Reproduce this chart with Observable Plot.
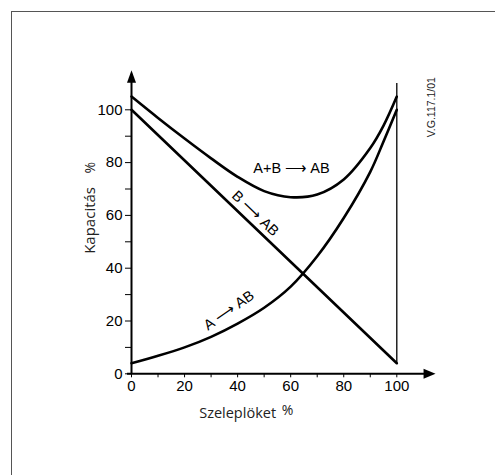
<!DOCTYPE html>
<html><head><meta charset="utf-8">
<script src="https://cdn.jsdelivr.net/npm/d3@7"></script>
<script src="https://cdn.jsdelivr.net/npm/@observablehq/plot@0.6"></script>
<style>
body{margin:0;background:#fff;overflow:hidden}
#wrap{position:relative;width:495px;height:475px}
#frame{position:absolute;left:11px;top:11px;width:600px;height:600px;border:1px solid #555;pointer-events:none}
#chart{position:absolute;left:0;top:0}
</style></head><body>
<div id="wrap"><div id="chart"></div><div id="frame"></div></div>
<script>
// Data
const strokePct = [0, 10, 20, 30, 40, 50, 60, 70, 80, 90, 95, 100];
const capAtoAB  = [4, 6.8, 10, 14, 19, 25, 33, 44.5, 59, 76.5, 88, 100];
const capSum    = [105, 96.9, 89.1, 81.6, 74.6, 69.2, 66.9, 67.9, 73.6, 85.5, 94, 105];
const strokeB   = [0, 100];
const capBtoAB  = [100, 4];
const xTicks = [0, 10, 20, 30, 40, 50, 60, 70, 80, 90, 100];
const yTicks = [0, 10, 20, 30, 40, 50, 60, 70, 80, 90, 100];

// Annotations
const curveLabels = ["A+B ⟶ AB", "B ⟶ AB", "A ⟶ AB"];
const labelX = [60.3, 46.7, 36.7];
const labelY = [77.8, 60.7, 24];
const labelAngle = [0, 43.7, -35];
const xTitle = "Szeleplöket", yTitle = "Kapacitás", unit = "%", code = "V.G.117.1/01";

const line = (xs, ys) => xs.map((x, i) => ({x, y: ys[i]}));
const tri = {draw(ctx, l, r) { ctx.moveTo(0, -l); ctx.lineTo(-r, 0); ctx.lineTo(r, 0); ctx.closePath(); }};
const sans = "Liberation Sans, Arial, sans-serif";

const chart = Plot.plot({
  width: 495, height: 475,
  marginLeft: 131, marginRight: 98.7, marginTop: 109.3, marginBottom: 101.7,
  x: {domain: [0, 100]},
  y: {domain: [0, 100]},
  style: {fontFamily: sans, fontSize: "15px", color: "black", background: "transparent"},
  marks: [
    Plot.axisY({ticks: yTicks, tickSize: 6, tickPadding: 3, tickFormat: d => d % 20 === 0 ? d : "", label: null, fontSize: 15, fontFamily: sans}),
    Plot.axisX({ticks: xTicks, tickSize: 4, tickPadding: 3, tickFormat: d => d % 20 === 0 ? d : "", label: null, fontSize: 15, fontFamily: sans}),
    Plot.ruleY([0], {x1: -1.5, x2: 110.5, strokeWidth: 2}),
    Plot.ruleX([0], {y1: 0, y2: 110.8, strokeWidth: 2}),
    Plot.vector([{x: 114.6, y: 0}], {x: "x", y: "y", rotate: 90, length: 12, r: 5, shape: tri, anchor: "end", fill: "black", stroke: "none"}),
    Plot.vector([{x: 0, y: 115}], {x: "x", y: "y", rotate: 0, length: 12.5, r: 4.5, shape: tri, anchor: "end", fill: "black", stroke: "none"}),
    Plot.ruleX([100], {y1: 4, y2: 110, strokeWidth: 1.3}),
    Plot.line(line(strokePct, capSum), {x: "x", y: "y", curve: "catmull-rom", strokeWidth: 2.6, stroke: "black"}),
    Plot.line(line(strokePct, capAtoAB), {x: "x", y: "y", curve: "catmull-rom", strokeWidth: 2.6, stroke: "black"}),
    Plot.line(line(strokeB, capBtoAB), {x: "x", y: "y", strokeWidth: 2.6, stroke: "black"}),
    Plot.text(curveLabels.map((t, i) => ({t, x: labelX[i], y: labelY[i], a: labelAngle[i]})), {x: "x", y: "y", text: "t", rotate: "a", fontSize: 14.5, fontFamily: sans, fill: "black"}),
    Plot.text([yTitle], {x: -15.5, y: 58.1, rotate: -90, fontFamily: "Open Sans", fontSize: 15, fill: "#222"}),
    Plot.text([unit], {x: -15.5, y: 78.1, rotate: -90, fontFamily: "Open Sans", fontSize: 14, fill: "#222"}),
    Plot.text([xTitle], {x: 40, y: -15, fontFamily: "Open Sans", fontSize: 14.5, fill: "#222"}),
    Plot.text([unit], {x: 58.8, y: -14, fontFamily: "Open Sans", fontSize: 14, fill: "#222"}),
    Plot.text([code], {x: 113.3, y: 101, rotate: -90, fontSize: 10.5, fontFamily: sans, fill: "#222"})
  ]
});
document.getElementById("chart").append(chart);
</script>
</body></html>
